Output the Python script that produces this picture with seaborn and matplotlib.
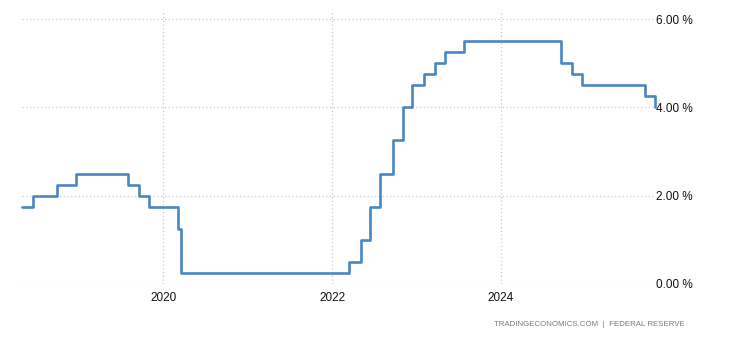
import matplotlib
matplotlib.use("Agg")
import matplotlib.pyplot as plt
import seaborn as sns
import pandas as pd

# Fed funds target rate (upper bound) change dates and levels
change_dates = ["2018-04-28", "2018-06-13", "2018-09-26", "2018-12-19",
                "2019-07-31", "2019-09-18", "2019-10-30", "2020-03-03",
                "2020-03-15", "2022-03-16", "2022-05-04", "2022-06-15",
                "2022-07-27", "2022-09-21", "2022-11-02", "2022-12-14",
                "2023-02-01", "2023-03-22", "2023-05-03", "2023-07-26",
                "2024-09-18", "2024-11-07", "2024-12-18", "2025-09-17",
                "2025-10-29"]
rates = [1.75, 2.00, 2.25, 2.50, 2.25, 2.00, 1.75, 1.25, 0.25, 0.50, 1.00,
         1.75, 2.50, 3.25, 4.00, 4.50, 4.75, 5.00, 5.25, 5.50, 5.00, 4.75,
         4.50, 4.25, 4.00]
y_ticks = [0, 2, 4, 6]
y_labels = ["0.00 %", "2.00 %", "4.00 %", "6.00 %"]
x_ticks = ["2020-01-01", "2022-01-01", "2024-01-01"]
x_labels = ["2020", "2022", "2024"]
source = "TRADINGECONOMICS.COM  |  FEDERAL RESERVE"

df = pd.DataFrame({"date": pd.to_datetime(change_dates), "rate": rates})

sns.set_theme(style="white")
plt.rcParams["font.family"] = ["Liberation Sans", "DejaVu Sans"]

fig = plt.figure(figsize=(7.3, 3.4), dpi=100)
ax = fig.add_axes([22 / 730, 1 - 284 / 340, (655 - 22) / 730, (284 - 10) / 340])

sns.lineplot(data=df, x="date", y="rate", ax=ax, color="#4a86c2",
             linewidth=1.9, drawstyle="steps-post")

ax.set_xlim(pd.Timestamp("2018-04-28"), pd.Timestamp("2025-10-31"))
ax.set_ylim(0, 6 + 9 / 44)
ax.set_xticks(pd.to_datetime(x_ticks))
ax.set_xticklabels(x_labels)
ax.set_yticks(y_ticks)
ax.set_yticklabels(y_labels)
ax.yaxis.tick_right()
ax.set_xlabel("")
ax.set_ylabel("")
for line in ax.get_lines():
    line.set_clip_on(False)

for s in ax.spines.values():
    s.set_visible(False)

ax.grid(True, color="#c8c8c8", linestyle=(0, (1, 2)), linewidth=0.9)
ax.tick_params(axis="x", length=3, color="#c8c8c8", pad=3,
               labelsize=8.5, labelcolor="#111111")
ax.tick_params(axis="y", length=0, pad=1, labelsize=8.5, labelcolor="#111111")
for lbl in ax.get_yticklabels():
    lbl.set_horizontalalignment("left")

fig.text(685 / 730, 1 - 325 / 340, source, ha="right", va="center",
         fontsize=5.7, color="#7a7a7a")

fig.savefig("out.png", dpi=100)
